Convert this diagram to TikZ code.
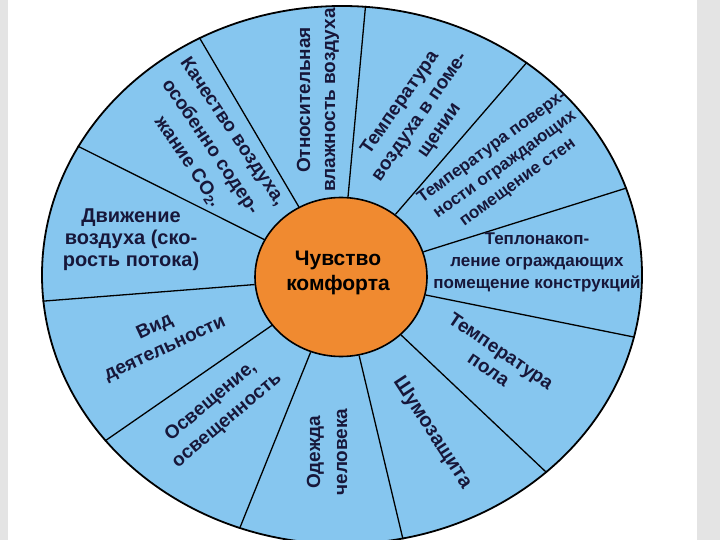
\documentclass[tikz,border=0pt]{standalone}
\usepackage{fontspec}
\setmainfont{Liberation Sans}
\usetikzlibrary{shapes.geometric}
\definecolor{skyfill}{HTML}{86C6EF}
\definecolor{hubfill}{HTML}{F08A30}
\definecolor{ink}{HTML}{17173A}
\definecolor{edgegrey}{HTML}{E4E4E4}

\begin{document}
\begin{tikzpicture}[x=1pt,y=-1pt]
\tikzstyle{every node}+=[inner sep=0pt]
\tikzstyle{lbl}=[text=ink, align=center, font=\bfseries\fontsize{19}{24}\selectfont]
\tikzstyle{small lbl}=[lbl, font=\bfseries\fontsize{17}{22}\selectfont]
\tikzstyle{spoke}=[black, line width=1.3pt]
\useasboundingbox (0,0) rectangle (720,540);
\clip (0,0) rectangle (720,540);
\fill [edgegrey] (0,0) rectangle (8,540);
\fill [edgegrey] (697,0) rectangle (720,540);
\node [ellipse, draw=black, line width=1.8pt, fill=skyfill, minimum width=600pt, minimum height=538pt] (rim) at (342,275) {};
\node [ellipse, draw=black, line width=1.6pt, fill=hubfill, minimum width=172pt, minimum height=159pt] (hub) at (341,277) {};
\draw [spoke] (hub.121) -- (rim.121);
\draw [spoke] (hub.85.5) -- (rim.85.5);
\draw [spoke] (hub.49.5) -- (rim.49.5);
\draw [spoke] (hub.17.5) -- (rim.17.5);
\draw [spoke] (hub.-12.5) -- (rim.-12.5);
\draw [spoke] (hub.-44) -- (rim.-44);
\draw [spoke] (hub.-77) -- (rim.-77);
\draw [spoke] (hub.-112.4) -- (rim.-112.4);
\draw [spoke] (hub.-145.5) -- (rim.-145.5);
\draw [spoke] (hub.-175.5) -- (rim.-175.5);
\draw [spoke] (hub.154.5) -- (rim.154.5);
\node [lbl, font=\bfseries\fontsize{19}{27}\selectfont, rotate=-56] (quality) at (210,147) {Качество воздуха,\\особенно содер-\\жание CO\textsubscript{2}.};
\node [lbl, font=\bfseries\fontsize{19}{25}\selectfont, rotate=90] (humidity) at (318,100) {Относительная\\влажность воздуха};
\node [lbl, rotate=55] (airtemp) at (420,117) {Температура\\воздуха в поме-\\щении};
\node [small lbl, rotate=36] (walltemp) at (505,165) {Температура поверх-\\ности ограждающих\\помещение стен};
\node [small lbl] (heatstore) at (537,262) {Теплонакоп-\\ление ограждающих\\помещение конструкций};
\node [lbl, font=\bfseries\fontsize{19}{22}\selectfont, rotate=-34] (floortemp) at (495,360) {Температура\\пола};
\node [lbl, font=\bfseries\fontsize{20}{24}\selectfont, rotate=-57] (noise) at (432,433) {Шумозащита};
\node [lbl, font=\bfseries\fontsize{19}{27}\selectfont, rotate=90] (clothes) at (327,452) {Одежда\\человека};
\node [lbl, font=\bfseries\fontsize{19}{25}\selectfont, rotate=40] (light) at (219,411) {Освещение,\\освещенность};
\node [lbl, rotate=25] (activity) at (160,338) {Вид\\деятельности};
\node [lbl, font=\bfseries\fontsize{20}{22}\selectfont] (airflow) at (131,240) {Движение\\воздуха (ско-\\рость потока)};
\node [text=black, align=center, font=\bfseries\fontsize{21}{25}\selectfont] (comfort) at (338,273) {Чувство\\комфорта};
\end{tikzpicture}
\end{document}
